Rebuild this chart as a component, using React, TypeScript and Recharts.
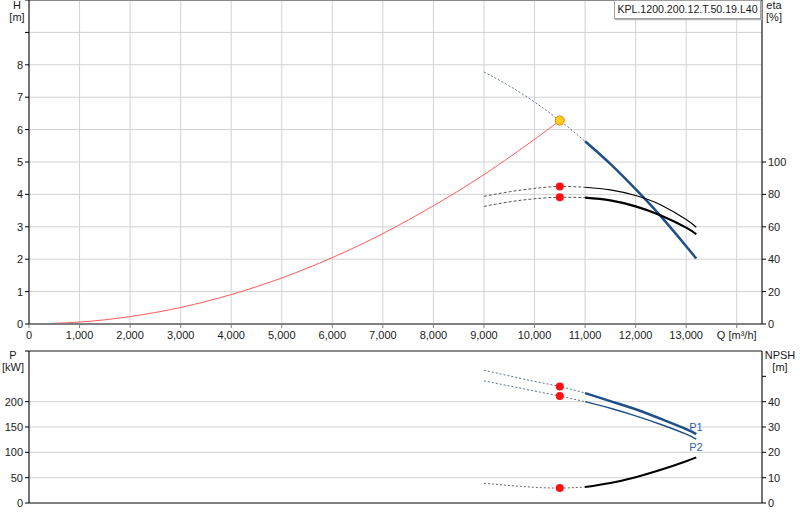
import React from 'react';
import {
  LineChart,
  Line,
  XAxis,
  YAxis,
  CartesianGrid,
  ReferenceDot,
  ReferenceLine,
} from 'recharts';

const flowTicks = [0, 1000, 2000, 3000, 4000, 5000, 6000, 7000, 8000, 9000, 10000, 11000, 12000, 13000, 14000];
const headTicks = [0, 1, 2, 3, 4, 5, 6, 7, 8, 9, 10];
const etaTicks = [0, 20, 40, 60, 80, 100];
const powerTicks = [0, 50, 100, 150, 200, 250, 300];
const npshTicks = [0, 10, 20, 30, 40, 50];

// system curve
const systemFlow = [0, 1000, 2000, 3000, 4000, 5000, 6000, 7000, 8000, 9000, 10000, 10500];
const systemHead = [0, 0.06, 0.23, 0.51, 0.91, 1.42, 2.05, 2.79, 3.65, 4.61, 5.7, 6.28];

// pump curves: dashed part outside the operating range, solid part inside
const flowDashed = [9000, 9500, 10000, 10500, 11000];
const flowSolid = [11000, 11500, 12000, 12500, 13000, 13200];

const headDashed = [7.78, 7.35, 6.85, 6.28, 5.64];
const headSolid = [5.64, 4.94, 4.16, 3.32, 2.4, 2.02];
const eta1Dashed = [78.8, 81.6, 83.7, 84.9, 84.4];
const eta1Solid = [84.4, 82.8, 79.3, 73.5, 64.5, 59.7];
const eta2Dashed = [72.6, 75.4, 77.3, 78.2, 78.0];
const eta2Solid = [78.0, 76.3, 72.6, 67.0, 59.5, 55.4];
const p1Dashed = [262, 251, 240, 230, 217];
const p1Solid = [217, 201, 185, 166, 146, 136];
const p2Dashed = [241, 231, 221, 211, 200];
const p2Solid = [200, 187, 172, 155, 136, 126];
const npshDashed = [7.8, 6.9, 6.2, 5.9, 6.3];
const npshSolid = [6.3, 7.9, 10.2, 13.1, 16.5, 18.0];

const dutyFlow = 10500;
const dutyIdx = flowDashed.indexOf(dutyFlow);

const pts = (qs: number[], vs: number[]) => qs.map((q, i) => ({ q, v: vs[i] }));

const font = '"Liberation Sans", Arial, sans-serif';
const blue = '#1f4f88';
const dashBlue = '#5d7396';
const gridColor = '#d2d2d2';

const FlowTick = (props: any) => {
  const { x, y, payload } = props;
  const label = payload.value === 14000 ? 'Q [m³/h]' : payload.value.toLocaleString('en-US');
  return (
    <text x={x} y={y} dy={9} textAnchor="middle" fontSize={11} fontFamily={font} fill="#1a1a1a">
      {label}
    </text>
  );
};

const leftTick = (max: number) => (props: any) => {
  const { x, y, payload } = props;
  if (payload.value > max) return <g />;
  return (
    <text x={x} y={y} dy={4} textAnchor="end" fontSize={11} fontFamily={font} fill="#1a1a1a">
      {payload.value}
    </text>
  );
};

const rightTick = (max: number) => (props: any) => {
  const { x, y, payload } = props;
  if (payload.value > max) return <g />;
  return (
    <text x={x} y={y} dy={4} textAnchor="start" fontSize={11} fontFamily={font} fill="#1a1a1a">
      {payload.value}
    </text>
  );
};

const endLabel = (text: string, dy: number) => (props: any) => {
  if (props.index !== flowSolid.length - 1) return <g />;
  return (
    <text x={props.x - 7} y={props.y + dy} fontSize={11} fontFamily={font} fill="#2a64a8">
      {text}
    </text>
  );
};

const axisText: React.CSSProperties = {
  position: 'absolute',
  fontFamily: font,
  fontSize: 11,
  lineHeight: '12px',
  color: '#1a1a1a',
  textAlign: 'center',
  width: 40,
};

export default function App() {
  return (
    <div style={{ position: 'absolute', left: 0, top: 0, width: 800, height: 520, background: '#fff' }}>
      <div style={{ position: 'absolute', left: 0, top: 0 }}>
        <LineChart width={800} height={344} margin={{ top: 0, right: 0, bottom: 0, left: 0 }}>
          <CartesianGrid yAxisId="h" stroke={gridColor} />
          <XAxis
            dataKey="q"
            type="number"
            domain={[0, 14500]}
            ticks={flowTicks}
            height={20}
            tick={FlowTick}
            tickSize={4}
            axisLine={{ stroke: '#808080', strokeWidth: 2 }}
            tickLine={{ stroke: '#808080' }}
          />
          <YAxis
            yAxisId="h"
            orientation="left"
            width={29}
            domain={[0, 10]}
            ticks={headTicks}
            tick={leftTick(8)}
            tickSize={4}
            axisLine={{ stroke: '#000' }}
            tickLine={{ stroke: '#000' }}
          />
          <YAxis
            yAxisId="eta"
            orientation="right"
            width={38}
            domain={[0, 200]}
            ticks={etaTicks}
            tick={rightTick(100)}
            tickSize={4}
            axisLine={{ stroke: '#000' }}
            tickLine={{ stroke: '#000' }}
          />
          <ReferenceLine yAxisId="h" y={10} stroke="#8a8a8a" strokeWidth={2} />
          <Line yAxisId="h" data={pts(systemFlow, systemHead)} dataKey="v" type="natural" stroke="#ff5a5a" strokeWidth={1} dot={false} isAnimationActive={false} />
          <Line yAxisId="h" data={pts(flowDashed, headDashed)} dataKey="v" type="natural" stroke={dashBlue} strokeWidth={1} strokeDasharray="2 2" dot={false} isAnimationActive={false} />
          <Line yAxisId="h" data={pts(flowSolid, headSolid)} dataKey="v" type="natural" stroke={blue} strokeWidth={2.5} dot={false} isAnimationActive={false} />
          <Line yAxisId="eta" data={pts(flowDashed, eta1Dashed)} dataKey="v" type="natural" stroke="#555" strokeWidth={1} strokeDasharray="3 2" dot={false} isAnimationActive={false} />
          <Line yAxisId="eta" data={pts(flowSolid, eta1Solid)} dataKey="v" type="natural" stroke="#000" strokeWidth={1.2} dot={false} isAnimationActive={false} />
          <Line yAxisId="eta" data={pts(flowDashed, eta2Dashed)} dataKey="v" type="natural" stroke="#555" strokeWidth={1} strokeDasharray="3 2" dot={false} isAnimationActive={false} />
          <Line yAxisId="eta" data={pts(flowSolid, eta2Solid)} dataKey="v" type="natural" stroke="#000" strokeWidth={2.2} dot={false} isAnimationActive={false} />
          <ReferenceDot yAxisId="eta" x={dutyFlow} y={eta1Dashed[dutyIdx]} r={4} fill="#ff1010" stroke="none" />
          <ReferenceDot yAxisId="eta" x={dutyFlow} y={eta2Dashed[dutyIdx]} r={4} fill="#ff1010" stroke="none" />
          <ReferenceDot yAxisId="h" x={dutyFlow} y={headDashed[dutyIdx]} r={4.5} fill="#ffd21a" stroke="#f07a00" strokeWidth={1} />
        </LineChart>
      </div>

      <div style={{ position: 'absolute', left: 0, top: 350 }}>
        <LineChart width={800} height={170} margin={{ top: 1, right: 0, bottom: 0, left: 0 }}>
          <CartesianGrid yAxisId="p" stroke={gridColor} />
          <XAxis
            dataKey="q"
            type="number"
            domain={[0, 14500]}
            ticks={flowTicks}
            height={17}
            tick={false}
            tickLine={false}
            axisLine={{ stroke: '#808080', strokeWidth: 2 }}
          />
          <YAxis
            yAxisId="p"
            orientation="left"
            width={29}
            domain={[0, 300]}
            ticks={powerTicks}
            tick={leftTick(200)}
            tickSize={4}
            axisLine={{ stroke: '#000' }}
            tickLine={{ stroke: '#000' }}
          />
          <YAxis
            yAxisId="npsh"
            orientation="right"
            width={38}
            domain={[0, 60]}
            ticks={npshTicks}
            tick={rightTick(40)}
            tickSize={4}
            axisLine={{ stroke: '#000' }}
            tickLine={{ stroke: '#000' }}
          />
          <ReferenceLine yAxisId="p" y={300} stroke="#8a8a8a" strokeWidth={2} />
          <Line yAxisId="p" data={pts(flowDashed, p1Dashed)} dataKey="v" type="natural" stroke={dashBlue} strokeWidth={1} strokeDasharray="2 2" dot={false} isAnimationActive={false} />
          <Line yAxisId="p" data={pts(flowSolid, p1Solid)} dataKey="v" type="natural" stroke={blue} strokeWidth={2.5} dot={false} isAnimationActive={false} label={endLabel('P1', -3)} />
          <Line yAxisId="p" data={pts(flowDashed, p2Dashed)} dataKey="v" type="natural" stroke={dashBlue} strokeWidth={1} strokeDasharray="2 2" dot={false} isAnimationActive={false} />
          <Line yAxisId="p" data={pts(flowSolid, p2Solid)} dataKey="v" type="natural" stroke={blue} strokeWidth={1.4} dot={false} isAnimationActive={false} label={endLabel('P2', 12)} />
          <Line yAxisId="npsh" data={pts(flowDashed, npshDashed)} dataKey="v" type="natural" stroke="#666" strokeWidth={1} strokeDasharray="2 2" dot={false} isAnimationActive={false} />
          <Line yAxisId="npsh" data={pts(flowSolid, npshSolid)} dataKey="v" type="natural" stroke="#000" strokeWidth={2} dot={false} isAnimationActive={false} />
          <ReferenceDot yAxisId="p" x={dutyFlow} y={p1Dashed[dutyIdx]} r={4} fill="#ff1010" stroke="none" />
          <ReferenceDot yAxisId="p" x={dutyFlow} y={p2Dashed[dutyIdx]} r={4} fill="#ff1010" stroke="none" />
          <ReferenceDot yAxisId="npsh" x={dutyFlow} y={npshDashed[dutyIdx]} r={4} fill="#ff1010" stroke="none" />
        </LineChart>
      </div>

      <div style={{ ...axisText, left: -3, top: -1 }}>H<br />[m]</div>
      <div style={{ ...axisText, left: 754, top: -1 }}>eta<br />[%]</div>
      <div style={{ ...axisText, left: -7, top: 349 }}>P<br />[kW]</div>
      <div style={{ ...axisText, left: 760, top: 349 }}>NPSH<br />[m]</div>

      <div
        style={{
          position: 'absolute',
          left: 614,
          top: 0,
          width: 147,
          height: 19,
          border: '1px solid #a0a0a0',
          boxShadow: '1px 1px 1px #b0b0b0',
          background: '#fff',
          fontFamily: font,
          fontSize: 10.6,
          lineHeight: '17px',
          color: '#1a1a1a',
          textAlign: 'center',
          boxSizing: 'border-box',
          whiteSpace: 'nowrap',
        }}
      >
        KPL.1200.200.12.T.50.19.L40
      </div>
    </div>
  );
}
